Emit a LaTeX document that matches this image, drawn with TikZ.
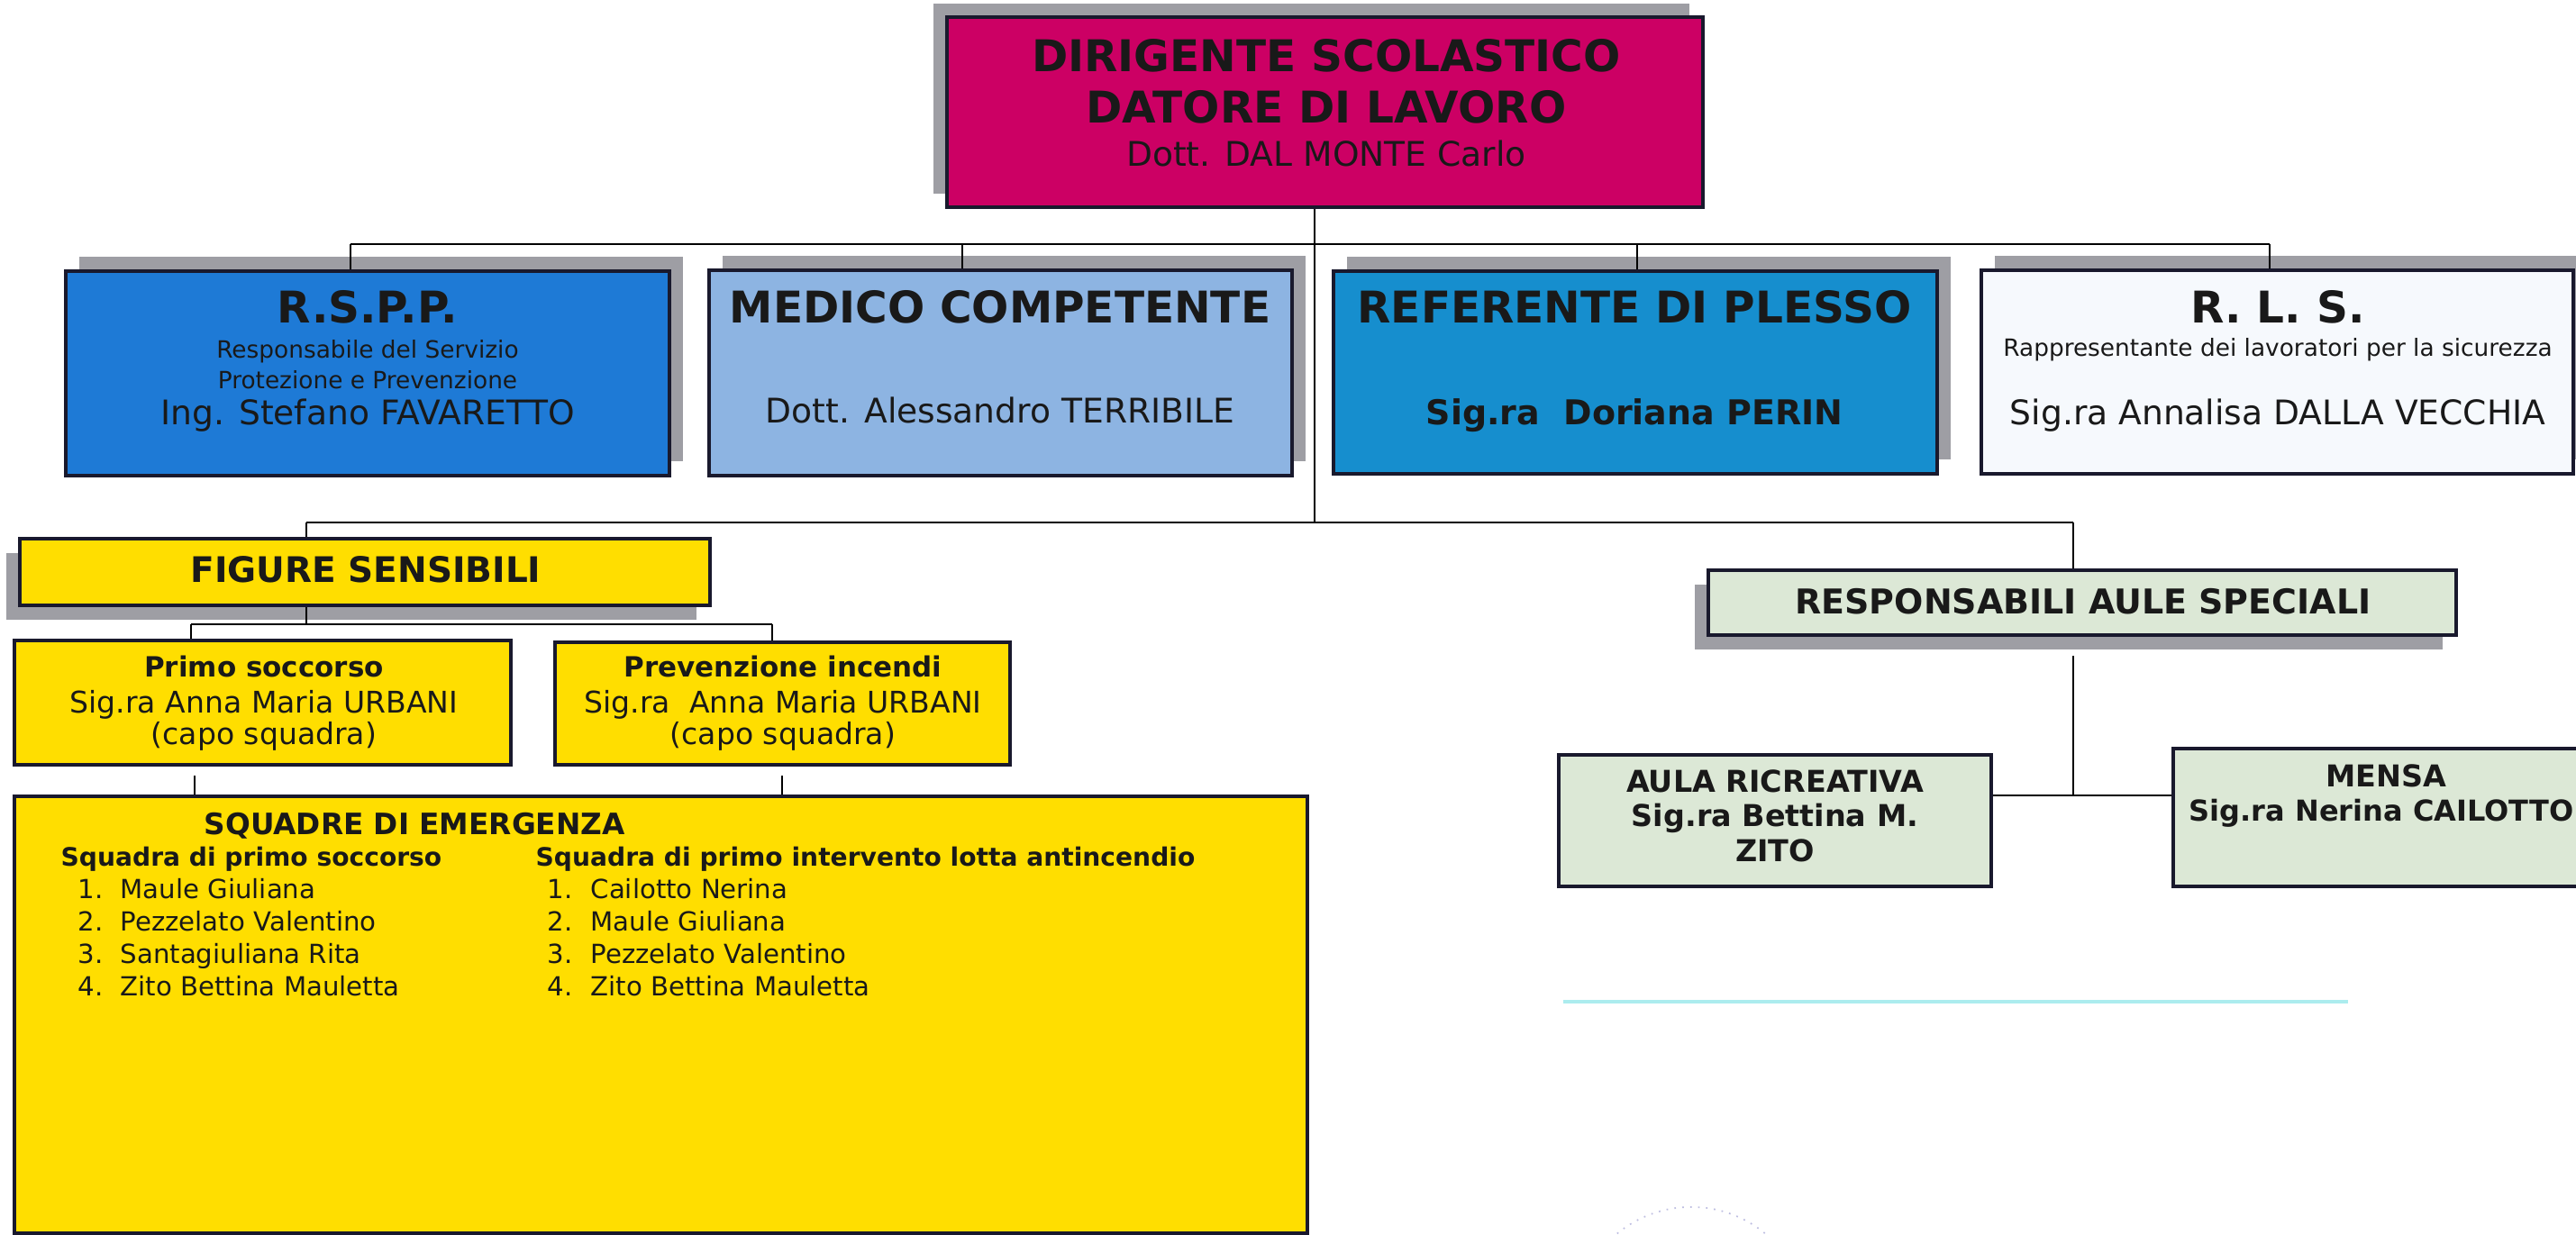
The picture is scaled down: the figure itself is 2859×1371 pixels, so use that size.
\documentclass[tikz,border=0pt]{standalone}
\usepackage{fontspec}
\setmainfont{DejaVu Sans}
\usepackage{xcolor}
\usetikzlibrary{shadows}
\definecolor{dirpink}{RGB}{204,0,100}
\definecolor{rsppblue}{RGB}{30,122,214}
\definecolor{medblue}{RGB}{141,180,226}
\definecolor{refblue}{RGB}{22,142,206}
\definecolor{rlswhite}{RGB}{246,249,253}
\definecolor{figyellow}{RGB}{255,222,0}
\definecolor{aulegreen}{RGB}{220,232,214}
\definecolor{shadowgray}{RGB}{158,158,164}
\definecolor{boxline}{RGB}{25,25,45}
\definecolor{cyanrule}{RGB}{172,236,238}
\definecolor{stampblue}{RGB}{190,190,225}
\tikzset{%
	orgbox/.style   = {draw=boxline, line width=1.1pt, rectangle, inner sep=0pt},
	shadowul/.style = {drop shadow={shadow xshift=-0.15cm, shadow yshift=0.15cm, fill=shadowgray, opacity=1}},
	shadowur/.style = {drop shadow={shadow xshift=0.15cm, shadow yshift=0.16cm, fill=shadowgray, opacity=1}},
	shadowdl/.style = {drop shadow={shadow xshift=-0.15cm, shadow yshift=-0.16cm, fill=shadowgray, opacity=1}},
	link/.style     = {line width=0.6pt, draw=black},
	txt/.style      = {anchor=base, inner sep=0pt, text=black!90},
	headbig/.style  = {txt, font=\fontsize{13.8}{16}\selectfont\bfseries},
	namereg/.style  = {txt, font=\fontsize{10.7}{13}\selectfont},
	namebold/.style = {txt, font=\fontsize{10.8}{13}\selectfont\bfseries},
	tinynote/.style = {txt, font=\fontsize{7.5}{9}\selectfont},
	fstitle/.style  = {txt, font=\fontsize{11.1}{13}\selectfont\bfseries},
	subhead/.style  = {txt, font=\fontsize{8.8}{11}\selectfont\bfseries},
	subname/.style  = {txt, font=\fontsize{9.4}{11}\selectfont},
	sqtitle/.style  = {txt, anchor=base west, font=\fontsize{9.3}{11}\selectfont\bfseries},
	sqhead/.style   = {txt, anchor=base west, font=\fontsize{8}{10}\selectfont\bfseries},
	listfont/.style = {txt, anchor=base west, font=\fontsize{8.3}{10}\selectfont},
	aulafont/.style = {txt, font=\fontsize{9.5}{11}\selectfont\bfseries},
}

\begin{document}
\begin{tikzpicture}[x=0.01cm,y=-0.01cm]
	\useasboundingbox (0,0) rectangle (2859,1371);
	\clip (0,0) rectangle (2859,1371);
	
	% head
	\node[orgbox, shadowul, fill=dirpink, minimum width=8.39cm, minimum height=2.11cm] (dir) at (1470.5,124.5) {};
	\node[headbig] (dirt1) at (1472,80) {DIRIGENTE SCOLASTICO};
	\node[headbig] (dirt2) at (1472,137) {DATORE DI LAVORO};
	\node[namereg] (dirt3) at (1472,185) {Dott. DAL MONTE Carlo};
	
	% second row
	\node[orgbox, shadowur, fill=rsppblue, minimum width=6.70cm, minimum height=2.27cm] (rspp) at (408,414.5) {};
	\node[headbig] (rsppt1) at (408,359) {R.S.P.P.};
	\node[tinynote] (rsppt2) at (408,398) {Responsabile del Servizio};
	\node[tinynote] (rsppt3) at (408,432) {Protezione e Prevenzione};
	\node[namereg] (rsppt4) at (408,472) {Ing. Stefano FAVARETTO};
	
	\node[orgbox, shadowur, fill=medblue, minimum width=6.47cm, minimum height=2.28cm] (med) at (1110.5,414) {};
	\node[headbig] (medt1) at (1110,359) {MEDICO COMPETENTE};
	\node[namereg] (medt2) at (1110,470) {Dott. Alessandro TERRIBILE};
	
	\node[orgbox, shadowur, fill=refblue, minimum width=6.70cm, minimum height=2.25cm] (ref) at (1815,413.5) {};
	\node[headbig] (reft1) at (1814,359) {REFERENTE DI PLESSO};
	\node[namebold] (reft2) at (1814,472) {Sig.ra\ \ Doriana PERIN};
	
	\node[orgbox, shadowur, fill=rlswhite, minimum width=6.57cm, minimum height=2.26cm] (rls) at (2527.5,413) {};
	\node[headbig] (rlst1) at (2528,359) {R. L. S.};
	\node[tinynote] (rlst2) at (2528,396) {Rappresentante dei lavoratori per la sicurezza};
	\node[namereg] (rlst3) at (2528,472) {Sig.ra Annalisa DALLA VECCHIA};
	
	\coordinate (busA) at (389,271);
	\coordinate (busB) at (1068,271);
	\coordinate (busC) at (1817,271);
	\coordinate (busD) at (2519,271);
	\coordinate (trunk) at (1459,580);
	\draw[link] (busA) -- (busD);
	\draw[link] (dir.south -| trunk) -- (trunk);
	\foreach \b/\n in {busA/rspp,busB/med,busC/ref,busD/rls} \draw[link] (\b) -- (\n.north -| \b);
	
	% third row
	\node[orgbox, shadowdl, fill=figyellow, minimum width=7.66cm, minimum height=0.74cm] (fs) at (405,635) {};
	\node[fstitle] (fst) at (406,647) {FIGURE SENSIBILI};
	
	\node[orgbox, shadowdl, fill=aulegreen, minimum width=8.30cm, minimum height=0.72cm] (ra) at (2311,669) {};
	\node[namebold] (rat) at (2312,682) {RESPONSABILI AULE SPECIALI};
	
	\coordinate (fsJ) at (340,580);
	\coordinate (raJ) at (2301,580);
	\draw[link] (fsJ) -- (raJ);
	\draw[link] (fsJ) -- (fs.north -| fsJ);
	\draw[link] (raJ) -- (ra.north -| raJ);
	
	% figure sensibili
	\node[orgbox, fill=figyellow, minimum width=5.51cm, minimum height=1.38cm] (ps) at (291.5,780) {};
	\node[subhead] (pst1) at (293,752) {Primo soccorso};
	\node[subname] (pst2) at (293,792) {Sig.ra Anna Maria URBANI};
	\node[subname] (pst3) at (293,827) {(capo squadra)};
	
	\node[orgbox, fill=figyellow, minimum width=5.05cm, minimum height=1.36cm] (pi) at (868.5,781) {};
	\node[subhead] (pit1) at (869,752) {Prevenzione incendi};
	\node[subname] (pit2) at (869,792) {Sig.ra\ \ Anna Maria URBANI};
	\node[subname] (pit3) at (869,827) {(capo squadra)};
	
	\coordinate (psJ) at (212,693);
	\coordinate (piJ) at (857,693);
	\draw[link] (fs.south -| fsJ) -- (fsJ |- psJ);
	\draw[link] (psJ) -- (piJ);
	\draw[link] (psJ) -- (ps.north -| psJ);
	\draw[link] (piJ) -- (pi.north -| piJ);
	
	% squadre
	\node[orgbox, fill=figyellow, minimum width=14.35cm, minimum height=4.85cm] (sq) at (733.5,1126.5) {};
	\node[sqtitle] (sqt) at (226,927) {SQUADRE DI EMERGENZA};
	\node[sqhead] (sqh1) at (67,962) {Squadra di primo soccorso};
	\node[sqhead] (sqh2) at (594,962) {Squadra di primo intervento lotta antincendio};
	\foreach \n/\who [evaluate=\n as \yy using 962+36*\n] in {1/Maule Giuliana,2/Pezzelato Valentino,3/Santagiuliana Rita,4/Zito Bettina Mauletta} {
		\node[listfont] (psn\n) at (86,\yy) {\n.};
		\node[listfont] (psw\n) at (133,\yy) {\who};
	}
	\foreach \n/\who [evaluate=\n as \yy using 962+36*\n] in {1/Cailotto Nerina,2/Maule Giuliana,3/Pezzelato Valentino,4/Zito Bettina Mauletta} {
		\node[listfont] (pin\n) at (607,\yy) {\n.};
		\node[listfont] (piw\n) at (655,\yy) {\who};
	}
	\coordinate (sqA) at (216,861);
	\coordinate (sqB) at (868,861);
	\draw[link] (sqA) -- (sq.north -| sqA);
	\draw[link] (sqB) -- (sq.north -| sqB);
	
	% aule speciali
	\node[orgbox, fill=aulegreen, minimum width=4.80cm, minimum height=1.46cm] (au) at (1970,911) {};
	\node[aulafont] (aut1) at (1970,880) {AULA RICREATIVA};
	\node[aulafont] (aut2) at (1970,918) {Sig.ra Bettina M.};
	\node[aulafont] (aut3) at (1970,957) {ZITO};
	
	\node[orgbox, fill=aulegreen, minimum width=4.72cm, minimum height=1.53cm] (me) at (2648,907.5) {};
	\node[aulafont] (met1) at (2648,874) {MENSA};
	\node[aulafont, font=\fontsize{9.1}{11}\selectfont\bfseries] (met2) at (2643,912) {Sig.ra Nerina CAILOTTO};
	
	\coordinate (raB) at (2301,728);
	\coordinate (auJ) at (2301,883);
	\draw[link] (raB) -- (auJ);
	\draw[link] (au.east |- auJ) -- (me.west |- auJ);
	
	% rule and stamp
	\coordinate (ruleA) at (1735,1112);
	\coordinate (ruleB) at (2606,1112);
	\draw[cyanrule, line width=0.9pt] (ruleA) -- (ruleB);
	\draw[stampblue, dotted, line width=0.5pt] (1877,1469) circle [radius=1.29cm];
\end{tikzpicture}
\end{document}
